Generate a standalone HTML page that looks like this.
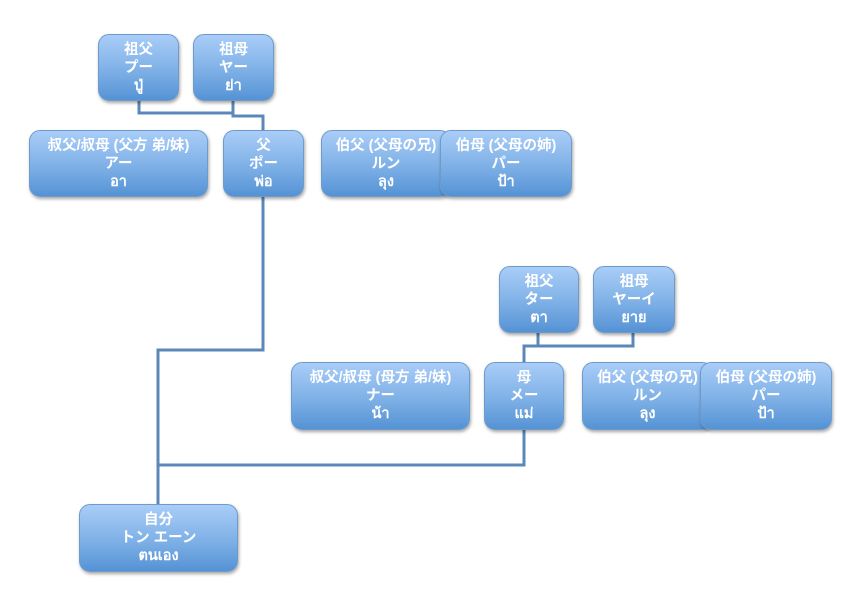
<!DOCTYPE html>
<html><head><meta charset="utf-8"><style>
body{margin:0;width:860px;height:602px;background:#fff;position:relative;overflow:hidden;font-family:"Liberation Sans","Noto Sans CJK JP","DejaVu Sans",sans-serif}
.b{position:absolute;box-sizing:border-box;border:1px solid #6f9bcb;border-radius:11px;background:linear-gradient(#a9cdf8,#7eb0e6 55%,#5593d5);box-shadow:1px 2px 3px rgba(0,0,0,.35);color:#fff;font-weight:bold;font-size:14.5px;line-height:18px;text-align:center;display:flex;flex-direction:column;justify-content:center;white-space:nowrap}
svg{position:absolute;left:0;top:0}
</style></head><body>
<svg width="860" height="602"><g fill="none" stroke="#5b88b8" stroke-width="3">
<polyline points="139,100 139,113 233,113"/>
<polyline points="233,100 233,116 263,116 263,130"/>
<polyline points="263,196 263,350 158,350 158,504"/>
<polyline points="538,332 538,346 524,346 524,362"/>
<polyline points="633,332 633,346 538,346"/>
<polyline points="524,429 524,465 158,465"/>
</g></svg>
<div class="b" style="left:98px;top:34px;width:81px;height:67px">祖父<br>プー<br>ปู่</div>
<div class="b" style="left:193px;top:34px;width:81px;height:67px">祖母<br>ヤー<br>ย่า</div>
<div class="b" style="left:29px;top:130px;width:179px;height:67px">叔父/叔母 (父方 弟/妹)<br>アー<br>อา</div>
<div class="b" style="left:223px;top:130px;width:81px;height:67px">父<br>ポー<br>พ่อ</div>
<div class="b" style="left:321px;top:130px;width:130px;height:67px">伯父 (父母の兄)<br>ルン<br>ลุง</div>
<div class="b" style="left:440px;top:130px;width:132px;height:67px">伯母 (父母の姉)<br>パー<br>ป้า</div>
<div class="b" style="left:499px;top:266px;width:80px;height:67px">祖父<br>ター<br>ตา</div>
<div class="b" style="left:593px;top:266px;width:82px;height:67px">祖母<br>ヤーイ<br>ยาย</div>
<div class="b" style="left:291px;top:362px;width:179px;height:68px">叔父/叔母 (母方 弟/妹)<br>ナー<br>น้า</div>
<div class="b" style="left:484px;top:362px;width:80px;height:68px">母<br>メー<br>แม่</div>
<div class="b" style="left:582px;top:362px;width:131px;height:68px">伯父 (父母の兄)<br>ルン<br>ลุง</div>
<div class="b" style="left:700px;top:362px;width:132px;height:68px">伯母 (父母の姉)<br>パー<br>ป้า</div>
<div class="b" style="left:79px;top:504px;width:159px;height:68px">自分<br>トン エーン<br>ตนเอง</div>
</body></html>
